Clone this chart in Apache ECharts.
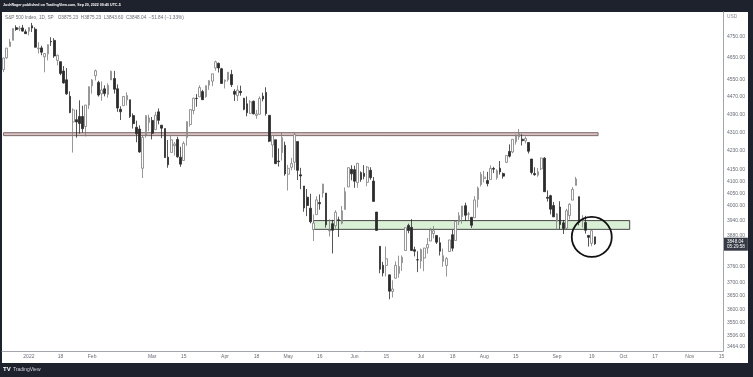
<!DOCTYPE html>
<html>
<head>
<meta charset="utf-8">
<script src="https://cdn.jsdelivr.net/npm/echarts@6/dist/echarts.min.js"></script>
<style>
html,body{margin:0;padding:0;background:#1e222d;}
#chart{width:753px;height:377px;}
</style>
</head>
<body>
<div id="chart"></div>
<script>
// trading days shown on the axis (weekdays minus market holidays)
const firstDay = '2021-12-21';
const lastDay = '2022-11-15';
const holidays = ['2021-12-24','2022-01-17','2022-02-21','2022-04-15','2022-05-30','2022-06-20','2022-07-04','2022-09-05'];

// x axis tick labels
const dateLabels = {
    '2022-01-03':'2022','2022-01-18':'18','2022-02-01':'Feb','2022-03-01':'Mar','2022-03-15':'15',
    '2022-04-01':'Apr','2022-04-18':'18','2022-05-02':'May','2022-05-16':'16','2022-06-01':'Jun',
    '2022-06-15':'15','2022-07-01':'Jul','2022-07-18':'18','2022-08-01':'Aug','2022-08-15':'15',
    '2022-09-01':'Sep','2022-09-19':'19','2022-10-03':'Oct','2022-10-17':'17','2022-11-01':'Nov','2022-11-15':'15'
};

// price axis labels (log scale)
const priceTicks = [4750,4650,4550,4470,4390,4310,4230,4150,4100,4050,4000,3940,3880,3760,3700,3650,3600,3550,3506,3464];

// daily candles [open, high, low, close]
const dec21 = [
    [4594.96,4651.14,4583.16,4649.23],[4650.36,4697.67,4645.53,4696.56],[4703.96,4740.74,4703.96,4725.79],
    [4733.99,4791.49,4733.99,4791.19],[4795.49,4807.02,4780.04,4786.35],[4788.64,4804.06,4778.08,4793.06],
    [4794.23,4808.93,4775.33,4778.73],[4775.21,4786.83,4765.75,4766.18]
];
const jan22 = [
    [4778.14,4796.64,4758.17,4796.56],[4804.51,4818.62,4774.27,4793.54],[4787.99,4797.70,4699.44,4700.58],
    [4693.39,4725.01,4671.26,4696.05],[4697.66,4707.95,4662.74,4677.03],[4655.34,4673.02,4582.24,4670.29],
    [4669.14,4714.13,4638.27,4713.07],[4728.59,4748.83,4706.71,4726.35],[4733.56,4744.13,4650.29,4659.03],
    [4637.99,4665.13,4614.75,4662.85],[4632.24,4632.24,4568.70,4577.11],[4588.03,4611.55,4530.20,4532.76],
    [4547.35,4602.11,4477.95,4482.73],[4471.38,4494.52,4395.34,4397.94],[4356.32,4417.35,4222.62,4410.13],
    [4366.64,4411.01,4287.11,4356.45],[4380.58,4453.23,4304.80,4349.93],[4380.58,4428.74,4309.50,4326.51],
    [4336.19,4432.72,4292.46,4431.85],[4431.79,4516.89,4414.02,4515.55]
];
const feb22 = [
    [4519.57,4550.49,4483.53,4546.54],[4566.39,4595.31,4544.32,4589.38],[4535.41,4542.88,4470.39,4477.44],
    [4482.79,4539.66,4451.50,4500.53],[4505.75,4521.86,4471.47,4483.87],[4480.02,4531.32,4465.40,4521.54],
    [4547.00,4590.03,4547.00,4587.18],[4553.24,4588.92,4484.31,4504.08],[4506.27,4526.33,4401.41,4418.64],
    [4412.61,4426.22,4364.84,4401.67],[4429.28,4472.77,4429.28,4471.07],[4455.75,4489.55,4429.68,4475.01],
    [4456.06,4456.06,4373.81,4380.26],[4384.57,4394.60,4327.22,4348.87],[4332.74,4362.12,4267.11,4304.76],
    [4324.93,4341.51,4221.51,4225.50],[4155.77,4294.73,4114.65,4288.70],[4298.38,4385.34,4286.83,4384.65],
    [4354.17,4388.84,4315.12,4373.94]
];
const mar22 = [
    [4363.14,4378.45,4279.54,4306.26],[4322.56,4401.48,4322.56,4386.54],[4401.31,4416.78,4345.56,4363.49],
    [4342.12,4342.12,4284.98,4328.87],[4327.01,4327.01,4199.85,4201.09],[4202.66,4276.94,4157.87,4170.70],
    [4223.10,4299.40,4223.10,4277.88],[4252.55,4268.28,4209.80,4259.52],[4279.50,4291.01,4200.49,4204.31],
    [4202.75,4247.57,4161.72,4173.11],[4188.82,4271.05,4187.90,4262.45],[4288.14,4358.90,4251.99,4357.86],
    [4345.11,4412.67,4335.65,4411.67],[4407.34,4465.40,4390.57,4463.12],[4462.40,4481.75,4424.30,4461.18],
    [4469.10,4522.00,4469.10,4511.61],[4493.10,4501.07,4455.81,4456.24],[4469.98,4520.58,4465.17,4520.16],
    [4522.66,4546.03,4501.07,4543.06],[4541.09,4575.65,4517.69,4575.52],[4602.86,4637.30,4589.66,4631.60],
    [4624.20,4627.77,4581.32,4602.45],[4599.02,4603.07,4530.41,4530.41]
];
const apr22 = [
    [4540.32,4548.70,4507.57,4545.86],[4547.97,4583.50,4539.21,4582.64],[4572.45,4593.45,4514.17,4525.12],
    [4494.17,4503.94,4450.04,4481.15],[4474.65,4521.16,4450.30,4500.21],[4494.15,4520.41,4474.60,4488.28],
    [4462.64,4464.35,4408.38,4412.53],[4437.59,4471.00,4381.34,4397.45],[4394.30,4453.92,4392.70,4446.59],
    [4449.12,4452.77,4390.17,4392.59],[4385.63,4410.31,4370.30,4391.69],[4390.63,4471.03,4390.63,4462.21],
    [4472.26,4488.29,4448.76,4459.45],[4489.17,4512.94,4384.47,4393.66],[4385.83,4385.83,4267.62,4271.78],
    [4255.34,4299.02,4200.82,4296.12],[4278.14,4278.14,4175.04,4175.20],[4186.52,4240.71,4162.90,4183.96],
    [4222.58,4308.45,4188.63,4287.50],[4253.75,4269.68,4124.28,4131.93]
];
const may22 = [
    [4130.61,4169.81,4062.51,4155.38],[4159.78,4200.10,4147.08,4175.48],[4181.18,4307.66,4148.91,4300.17],
    [4270.43,4270.43,4106.01,4146.87],[4128.17,4157.69,4067.91,4123.34],[4081.27,4081.27,3975.48,3991.24],
    [4035.18,4068.82,3958.17,4001.05],[3990.08,4049.09,3928.82,3935.18],[3903.95,3964.80,3858.87,3930.08],
    [3963.90,4038.88,3963.90,4023.89],[4013.02,4046.46,3983.99,4008.01],[4052.00,4090.72,4033.93,4088.85],
    [4051.98,4051.98,3911.91,3923.68],[3899.00,3945.96,3876.58,3900.79],[3927.76,3943.42,3810.32,3901.36],
    [3919.42,3981.88,3909.04,3973.75],[3942.94,3955.68,3875.13,3941.48],[3929.59,3999.33,3925.03,3978.73],
    [3984.60,4075.14,3984.60,4057.84],[4077.43,4158.49,4077.43,4158.24],[4151.09,4168.34,4104.88,4132.15]
];
const jun22 = [
    [4149.78,4166.54,4073.85,4101.23],[4095.41,4177.51,4074.37,4176.82],[4137.57,4142.67,4098.67,4108.54],
    [4134.72,4168.78,4109.18,4121.43],[4096.47,4164.86,4080.19,4160.68],[4147.12,4160.14,4107.20,4115.77],
    [4101.65,4119.10,4017.17,4017.82],[3974.39,3974.39,3900.16,3900.86],[3838.15,3838.15,3734.30,3749.63],
    [3764.79,3778.18,3722.30,3735.48],[3764.05,3837.56,3722.30,3789.99],[3728.18,3728.18,3636.87,3666.77],
    [3665.90,3707.71,3643.41,3674.84],[3715.31,3779.65,3715.31,3764.79],[3733.89,3801.79,3717.69,3759.89],
    [3774.71,3802.58,3743.52,3795.73],[3821.75,3913.65,3821.75,3911.74],[3920.76,3927.72,3889.66,3900.11],
    [3913.00,3945.86,3820.14,3821.55],[3825.09,3836.50,3799.02,3818.83],[3785.99,3818.99,3738.67,3785.38]
];
const jul22 = [
    [3781.00,3829.82,3752.10,3825.33],[3792.61,3832.19,3742.06,3831.39],[3831.98,3870.91,3809.37,3845.08],
    [3858.85,3910.63,3858.85,3902.62],[3888.26,3918.50,3869.34,3899.38],[3880.94,3880.94,3847.22,3854.43],
    [3851.95,3873.41,3802.36,3818.80],[3779.67,3829.44,3759.07,3801.78],[3763.99,3796.41,3721.56,3790.38],
    [3818.00,3863.62,3817.18,3863.16],[3883.79,3902.44,3818.63,3830.85],[3860.73,3939.81,3860.73,3936.69],
    [3935.32,3974.13,3922.03,3959.90],[3955.47,3999.29,3927.64,3998.95],[4000.20,4012.44,3938.27,3961.63],
    [3965.72,3975.30,3943.46,3966.84],[3953.22,3953.22,3910.74,3921.05],[3951.43,4039.56,3951.43,4023.61],
    [4026.13,4078.95,3992.97,4072.43],[4087.33,4140.15,4079.22,4130.29]
];
const aug22 = [
    [4112.38,4144.95,4096.02,4118.63],[4104.21,4140.47,4079.81,4091.19],[4107.96,4167.66,4107.96,4155.17],
    [4154.85,4161.29,4135.42,4151.94],[4115.87,4151.58,4107.31,4145.19],[4155.93,4186.62,4128.97,4140.06],
    [4133.11,4137.30,4112.09,4122.47],[4181.02,4211.03,4177.26,4210.24],[4227.40,4257.91,4201.41,4207.27],
    [4225.02,4280.47,4219.78,4280.15],[4269.37,4301.79,4256.90,4297.14],[4290.46,4325.28,4277.77,4305.20],
    [4280.40,4302.18,4253.08,4274.04],[4273.13,4292.53,4261.98,4283.74],[4266.31,4266.31,4218.70,4228.48],
    [4195.08,4195.08,4129.86,4137.99],[4133.09,4159.77,4124.03,4128.73],[4126.55,4156.56,4119.97,4140.77],
    [4153.26,4200.54,4147.59,4199.12],[4198.74,4203.04,4057.66,4057.66],[4034.58,4062.99,4017.42,4030.61],
    [4041.25,4044.98,3965.21,3986.16],[4000.67,4015.37,3954.53,3955.00]
];
const sep22 = [
    [3936.73,3970.23,3903.65,3966.85],[3994.66,4018.43,3906.21,3924.26],[3930.89,3942.55,3886.75,3908.19],
    [3909.43,3987.89,3906.03,3979.87],[3959.94,4010.50,3944.81,4006.18],[4022.94,4076.81,4022.94,4067.36],
    [4083.67,4119.28,4083.67,4110.41],[4037.12,4037.12,3921.10,3932.69],[3940.73,3961.94,3912.25,3946.01],
    [3932.41,3959.14,3888.28,3901.35],[3880.95,3880.95,3837.08,3873.33],[3849.91,3900.45,3838.50,3899.89],
    [3875.23,3875.23,3843.60,3848.04]
];

// drawn levels
const resistBand = {from: '2021-12-21', to: '2022-09-21', low: 4296, high: 4309};
const supportZone = {from: '2022-05-12', to: '2022-10-05', low: 3905, high: 3940};
const circleAt = {date: '2022-09-19', price: 3875};
const lastPrice = 3848.04;

// build the day list
let dates = [];
let d = new Date(firstDay + 'T00:00:00Z');
const end = new Date(lastDay + 'T00:00:00Z');
while (d <= end) {
    let s = d.toISOString().slice(0, 10);
    let wd = d.getUTCDay();
    if (wd != 0 && wd != 6 && holidays.indexOf(s) < 0) dates.push(s);
    d = new Date(d.getTime() + 86400000);
}

const candles = [].concat(dec21, jan22, feb22, mar22, apr22, may22, jun22, jul22, aug22, sep22);
const ln = Math.log;
const candleData = candles.map(c => [ln(c[0]), ln(c[3]), ln(c[2]), ln(c[1])]);

const font = 'Liberation Sans, Arial, sans-serif';
const chart = echarts.init(document.getElementById('chart'));

const option = {
    animation: false,
    backgroundColor: '#1e222d',
    graphic: [
        {type: 'rect', z: -10, shape: {x: 2, y: 12, width: 746, height: 351}, style: {fill: '#ffffff'}},
        {type: 'text', left: 3, top: 3, style: {text: 'JoshRager published on TradingView.com, Sep 20, 2022 09:40 UTC-5', fill: '#ffffff', font: 'bold 3.6px ' + font}},
        {type: 'text', left: 5, top: 15, style: {text: 'S&P 500 Index, 1D, SP   O3875.23  H3875.23  L3843.60  C3848.04  \u221251.84 (\u22121.33%)', fill: '#6a6d78', font: '4.7px ' + font}},
        {type: 'text', left: 727, top: 14, style: {text: 'USD', fill: '#8a8d96', font: '4.8px ' + font}},
        {type: 'text', left: 3, top: 366, style: {text: 'TV', fill: '#ffffff', font: 'bold 6px ' + font}},
        {type: 'text', left: 13, top: 367, style: {text: 'TradingView', fill: '#d1d4dc', font: '5px ' + font}}
    ],
    grid: {left: 2, right: 30, top: 12, bottom: 26},
    xAxis: {
        type: 'category',
        data: dates,
        boundaryGap: true,
        axisLine: {show: true, lineStyle: {color: '#a3a6af', width: 1}},
        axisTick: {show: false},
        splitLine: {show: false},
        axisLabel: {
            interval: (i, v) => !!dateLabels[v],
            formatter: v => dateLabels[v] || '',
            color: '#6a6d78', fontSize: 5, fontFamily: font, margin: 3,
            hideOverlap: false
        }
    },
    yAxis: {
        type: 'value',
        position: 'right',
        min: 8.14614,
        max: 8.49136,
        scale: true,
        axisLine: {show: true, lineStyle: {color: '#a3a6af', width: 1}},
        axisTick: {show: false, customValues: priceTicks.map(ln)},
        splitLine: {show: false},
        axisLabel: {
            customValues: priceTicks.map(ln),
            formatter: v => Math.exp(v).toFixed(2),
            color: '#6a6d78', fontSize: 5, fontFamily: font, margin: 4, align: 'left'
        }
    },
    series: [{
        type: 'candlestick',
        data: candleData,
        barWidth: 2.2,
        itemStyle: {
            color: '#ffffff', color0: '#2b2b2b',
            borderColor: '#7d7d7d', borderColor0: '#2b2b2b',
            borderWidth: 0.8
        },
        markArea: {
            silent: true,
            data: [
                [{xAxis: resistBand.from, yAxis: ln(resistBand.low),
                  itemStyle: {color: '#dcc0c0', borderColor: '#7a6c6c', borderWidth: 1}},
                 {xAxis: resistBand.to, yAxis: ln(resistBand.high)}],
                [{xAxis: supportZone.from, yAxis: ln(supportZone.low),
                  itemStyle: {color: 'rgba(205,235,200,0.75)', borderColor: '#454545', borderWidth: 1}},
                 {xAxis: supportZone.to, yAxis: ln(supportZone.high)}]
            ]
        },
        markPoint: {
            silent: true,
            data: [{
                coord: [circleAt.date, ln(circleAt.price)],
                symbol: 'circle', symbolSize: 40,
                itemStyle: {color: 'rgba(0,0,0,0)', borderColor: '#111', borderWidth: 1.8},
                label: {show: false}
            }]
        },
        markLine: {
            silent: true,
            symbol: 'none',
            z: 10,
            lineStyle: {color: 'rgba(0,0,0,0)', width: 0, type: 'solid'},
            data: [{yAxis: ln(lastPrice)}],
            label: {
                show: true,
                position: 'end', distance: 1,
                offset: [0, 5],
                formatter: lastPrice.toFixed(2) + '\n05:29:58',
                backgroundColor: '#363a45', color: '#ffffff',
                fontSize: 4.6, fontFamily: font, lineHeight: 5.5,
                padding: [1, 3]
            }
        }
    }]
};
chart.setOption(option);
</script>
</body>
</html>
